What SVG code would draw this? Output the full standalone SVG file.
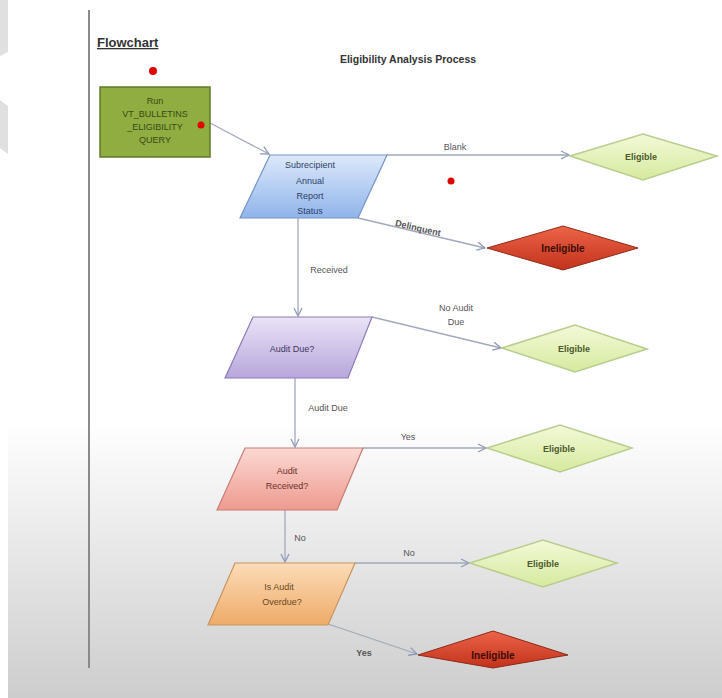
<svg xmlns="http://www.w3.org/2000/svg" width="722" height="698" viewBox="0 0 722 698">
<defs>
<linearGradient id="bg" x1="0" y1="0" x2="0" y2="1">
<stop offset="0" stop-color="#ffffff"/>
<stop offset="1" stop-color="#cdcdcd"/>
</linearGradient>
<linearGradient id="gBlue" x1="0" y1="0" x2="0" y2="1"><stop offset="0" stop-color="#dde9fb"/><stop offset="1" stop-color="#8fb4ea"/></linearGradient>
<linearGradient id="gPurple" x1="0" y1="0" x2="0" y2="1"><stop offset="0" stop-color="#ebe3f6"/><stop offset="1" stop-color="#b7a6dc"/></linearGradient>
<linearGradient id="gPink" x1="0" y1="0" x2="0" y2="1"><stop offset="0" stop-color="#fbd9d3"/><stop offset="1" stop-color="#ee9a8f"/></linearGradient>
<linearGradient id="gOrange" x1="0" y1="0" x2="0" y2="1"><stop offset="0" stop-color="#fcdcb8"/><stop offset="1" stop-color="#eeab68"/></linearGradient>
<linearGradient id="gGreen" x1="0" y1="0" x2="0" y2="1"><stop offset="0" stop-color="#f3f9d8"/><stop offset="1" stop-color="#d5ea9e"/></linearGradient>
<linearGradient id="gRed" x1="0" y1="0" x2="0" y2="1"><stop offset="0" stop-color="#ec6448"/><stop offset="1" stop-color="#c2321b"/></linearGradient>
<marker id="arr" viewBox="0 0 10 10" refX="9" refY="5" markerWidth="10" markerHeight="10" markerUnits="userSpaceOnUse" orient="auto">
<path d="M1,1 L9,5 L1,9" fill="none" stroke="#8f9bb8" stroke-width="1.3"/>
</marker>
</defs>
<style>
.t{font-family:"Liberation Sans",Arial,sans-serif;font-size:9px;text-anchor:middle}
.lbl{font-family:"Liberation Sans",Arial,sans-serif;font-size:9px;fill:#555;text-anchor:middle}
.c{fill:none;stroke:#a2a9bc;stroke-width:1.3;marker-end:url(#arr)}
.el{fill:url(#gGreen);stroke:#b9cd8e;stroke-width:1.5}
.el-t{fill:#4c5a2c;font-weight:bold}
.in{fill:url(#gRed);stroke:#8f2a18;stroke-width:1}
.in-t{fill:#3a0c06;font-weight:bold;font-size:10px}
.dot{fill:#e00000}
</style>
<rect width="722" height="698" fill="#ffffff"/>
<rect x="8" y="420" width="714" height="278" fill="url(#bg)"/>
<polygon points="0,0 8,0 8,52 0,56" fill="#e0e0e0"/>
<polygon points="0,100 8,106 8,154 0,148" fill="#e0e0e0"/>
<line x1="89" y1="10" x2="89" y2="668" stroke="#8a8a8a" stroke-width="2"/>
<text x="97" y="47" font-family="Liberation Sans,Arial,sans-serif" font-size="13" font-weight="bold" fill="#333" text-decoration="underline">Flowchart</text>
<text x="408" y="63" font-family="Liberation Sans,Arial,sans-serif" font-size="10.5" font-weight="bold" fill="#333" text-anchor="middle">Eligibility Analysis Process</text>

<g id="connectors">
<line class="c" x1="210" y1="123" x2="269" y2="154"/>
<line class="c" x1="387" y1="155" x2="569" y2="155"/>
<line class="c" x1="358" y1="218" x2="485" y2="248"/>
<line class="c" x1="298" y1="218" x2="298" y2="316"/>
<line class="c" x1="372" y1="317" x2="501" y2="348"/>
<line class="c" x1="295" y1="378" x2="295" y2="447"/>
<line class="c" x1="363" y1="448" x2="486" y2="448"/>
<line class="c" x1="285" y1="509" x2="285" y2="562"/>
<line class="c" x1="355" y1="563" x2="469" y2="563"/>
<line class="c" x1="328" y1="624" x2="417" y2="654"/>
<text class="lbl" x="455" y="150">Blank</text>
<text class="lbl" x="418" y="231" transform="rotate(13 418 228)" font-weight="bold" fill="#222">Delinquent</text>
<text class="lbl" x="329" y="273">Received</text>
<text class="lbl" x="456" y="311">No Audit</text>
<text class="lbl" x="456" y="325">Due</text>
<text class="lbl" x="328" y="411">Audit Due</text>
<text class="lbl" x="408" y="440">Yes</text>
<text class="lbl" x="300" y="541">No</text>
<text class="lbl" x="409" y="556">No</text>
<text class="lbl" x="364" y="656" font-weight="bold" fill="#222">Yes</text>
</g>

<g id="start">
<rect x="100" y="87" width="110" height="70" fill="#8fad40" stroke="#5f7a2a" stroke-width="1.5"/>
<text class="t" x="155" y="104" fill="#3a4a16">Run</text>
<text class="t" x="155" y="117" fill="#3a4a16">VT_BULLETINS</text>
<text class="t" x="155" y="130" fill="#3a4a16">_ELIGIBILITY</text>
<text class="t" x="155" y="143" fill="#3a4a16">QUERY</text>
</g>

<g id="status">
<polygon points="270,155 387,155 358,218 240,218" fill="url(#gBlue)" stroke="#7593c4" stroke-width="1.2"/>
<text class="t" x="310" y="168" fill="#2f4168">Subrecipient</text>
<text class="t" x="310" y="184" fill="#2f4168">Annual</text>
<text class="t" x="310" y="199" fill="#2f4168">Report</text>
<text class="t" x="310" y="214" fill="#2f4168">Status</text>
</g>

<g id="eligible1">
<polygon class="el" points="570,156 643,134 717,156 643,180"/>
<text class="t el-t" x="641" y="160">Eligible</text>
</g>

<g id="ineligible1">
<polygon class="in" points="487,248 563,226 638,248 563,270"/>
<text class="t in-t" x="563" y="252">Ineligible</text>
</g>

<g id="auditDue">
<polygon points="253,317 372,317 348,378 225,378" fill="url(#gPurple)" stroke="#8d7cb6" stroke-width="1.2"/>
<text class="t" x="292" y="352" fill="#40365e">Audit Due?</text>
</g>

<g id="eligible2">
<polygon class="el" points="502,348 575,325 647,349 575,372"/>
<text class="t el-t" x="574" y="352">Eligible</text>
</g>

<g id="auditReceived">
<polygon points="245,448 363,448 337,510 217,510" fill="url(#gPink)" stroke="#c77d74" stroke-width="1.2"/>
<text class="t" x="287" y="474" fill="#6a3128">Audit</text>
<text class="t" x="287" y="489" fill="#6a3128">Received?</text>
</g>

<g id="eligible3">
<polygon class="el" points="487,448 560,425 632,448 560,472"/>
<text class="t el-t" x="559" y="452">Eligible</text>
</g>

<g id="auditOverdue">
<polygon points="235,563 355,563 328,625 208,625" fill="url(#gOrange)" stroke="#c7955f" stroke-width="1.2"/>
<text class="t" x="279" y="590" fill="#6a4620">Is Audit</text>
<text class="t" x="282" y="605" fill="#6a4620">Overdue?</text>
</g>

<g id="eligible4">
<polygon class="el" points="470,563 543,540 617,563 543,587"/>
<text class="t el-t" x="543" y="567">Eligible</text>
</g>

<g id="ineligible2">
<polygon class="in" points="418,655 493,631 568,655 493,668"/>
<text class="t in-t" x="493" y="659">Ineligible</text>
</g>

<circle class="dot" cx="153" cy="71" r="4"/>
<circle class="dot" cx="201" cy="125" r="3.5"/>
<circle class="dot" cx="451" cy="181" r="3.5"/>
</svg>
